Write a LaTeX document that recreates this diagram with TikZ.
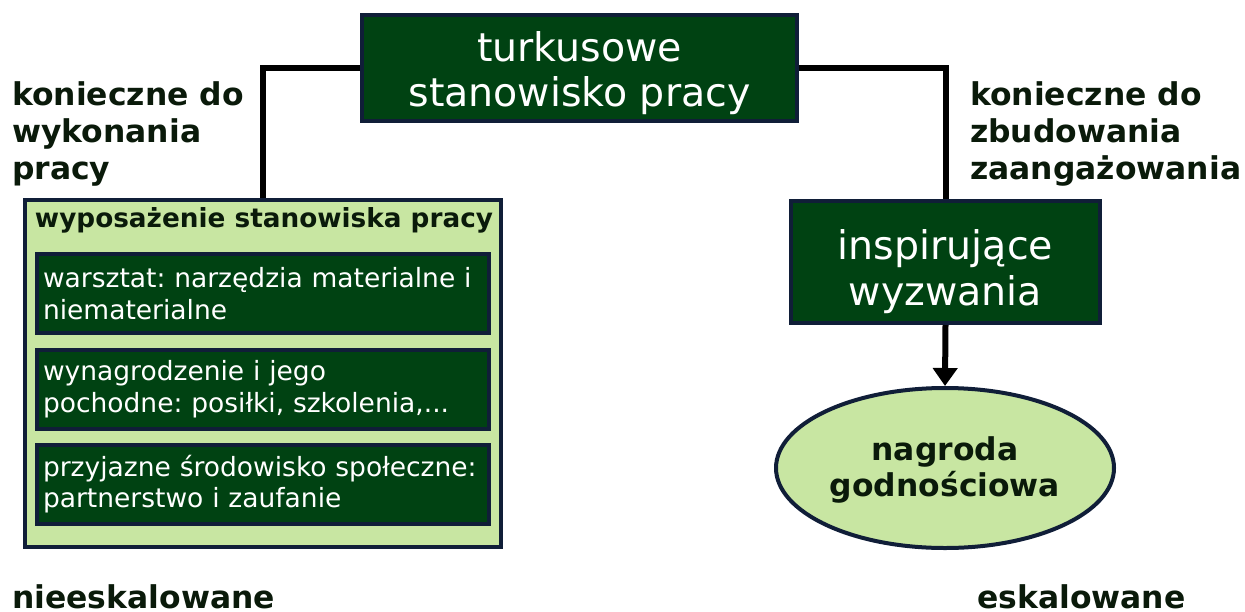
\documentclass[tikz,border=0pt]{standalone}
\usepackage{fontspec}
\setmainfont{DejaVu Sans}
\usetikzlibrary{shapes.geometric,arrows.meta}
\definecolor{boxgreen}{HTML}{004212}
\definecolor{edgenavy}{HTML}{101E38}
\definecolor{palegreen}{HTML}{C8E6A2}
\definecolor{inkdark}{HTML}{0A1A0A}
\frenchspacing
\tikzset{
  darkbox/.style={draw=edgenavy, line width=4pt, fill=boxgreen, inner sep=0pt},
  boxtext/.style={text=white, inner sep=0pt, align=center},
  itembox/.style={draw=edgenavy, line width=4pt, fill=boxgreen, text=white,
    inner sep=0pt, minimum width=452pt, minimum height=79pt,
    text width=440pt, align=left,
    font=\fontsize{26.5pt}{31.5pt}\selectfont},
  boldlabel/.style={text=inkdark, inner sep=0pt, align=left,
    font=\fontsize{31.4pt}{37pt}\selectfont\bfseries},
  conn/.style={line width=6pt, draw=black},
}
\begin{document}
\begin{tikzpicture}[x=1pt,y=-1pt]
\useasboundingbox (0,0) rectangle (1245,611);

% top box
\node[darkbox, minimum width=435pt, minimum height=106pt] (top) at (579.5,68) {};
\node[boxtext, font=\fontsize{39.5pt}{45pt}\selectfont] (toptext) at (579.5,73)
  {turkusowe\\stanowisko pracy};

% left group: equipment of the workplace
\node[draw=edgenavy, line width=4pt, fill=palegreen, inner sep=0pt,
  minimum width=476pt, minimum height=347pt] (equip) at (263,373.5) {};
\node[text=inkdark, inner sep=0pt, font=\fontsize{26.3pt}{30pt}\selectfont\bfseries]
  (equiptitle) at (264,220) {wyposażenie stanowiska pracy};
\node[itembox] (item1) at (263,293.5)
  {warsztat: narzędzia materialne i\\niematerialne};
\node[itembox] (item2) at (263,389)
  {wynagrodzenie i jego\\pochodne: posiłki, szkolenia,...};
\node[itembox] (item3) at (263,484)
  {przyjazne środowisko społeczne:\\partnerstwo i zaufanie};

% right branch
\node[darkbox, minimum width=309pt, minimum height=122pt] (insp) at (945.5,262) {};
\node[boxtext, font=\fontsize{39.5pt}{46pt}\selectfont] (insptext) at (945.5,272)
  {inspirujące\\wyzwania};
\node[ellipse, draw=edgenavy, line width=4pt, fill=palegreen, inner sep=0pt,
  minimum width=338pt, minimum height=160pt] (reward) at (945,468) {};
\node[text=inkdark, inner sep=0pt, align=center,
  font=\fontsize{31.4pt}{36.5pt}\selectfont\bfseries] (rewardtext) at (945,470)
  {nagroda\\godnościowa};

% side labels
\node[boldlabel, anchor=north west] (leftlabel) at (12,81)
  {konieczne do\\wykonania\\pracy};
\node[boldlabel, anchor=north west] (rightlabel) at (970,81)
  {konieczne do\\zbudowania\\zaangażowania};
\node[boldlabel, text depth=0pt, anchor=base west] (lowleft) at (12,608) {nieeskalowane};
\node[boldlabel, text depth=0pt, anchor=base west] (lowright) at (977,608) {eskalowane};

% connectors
\draw[conn] (top.west) -| (equip.north);
\draw[conn] (top.east) -| (insp.north);
\draw[conn, -{Triangle[width=24pt,length=18pt]}] (insp.south) -- (reward.north);
\end{tikzpicture}
\end{document}
